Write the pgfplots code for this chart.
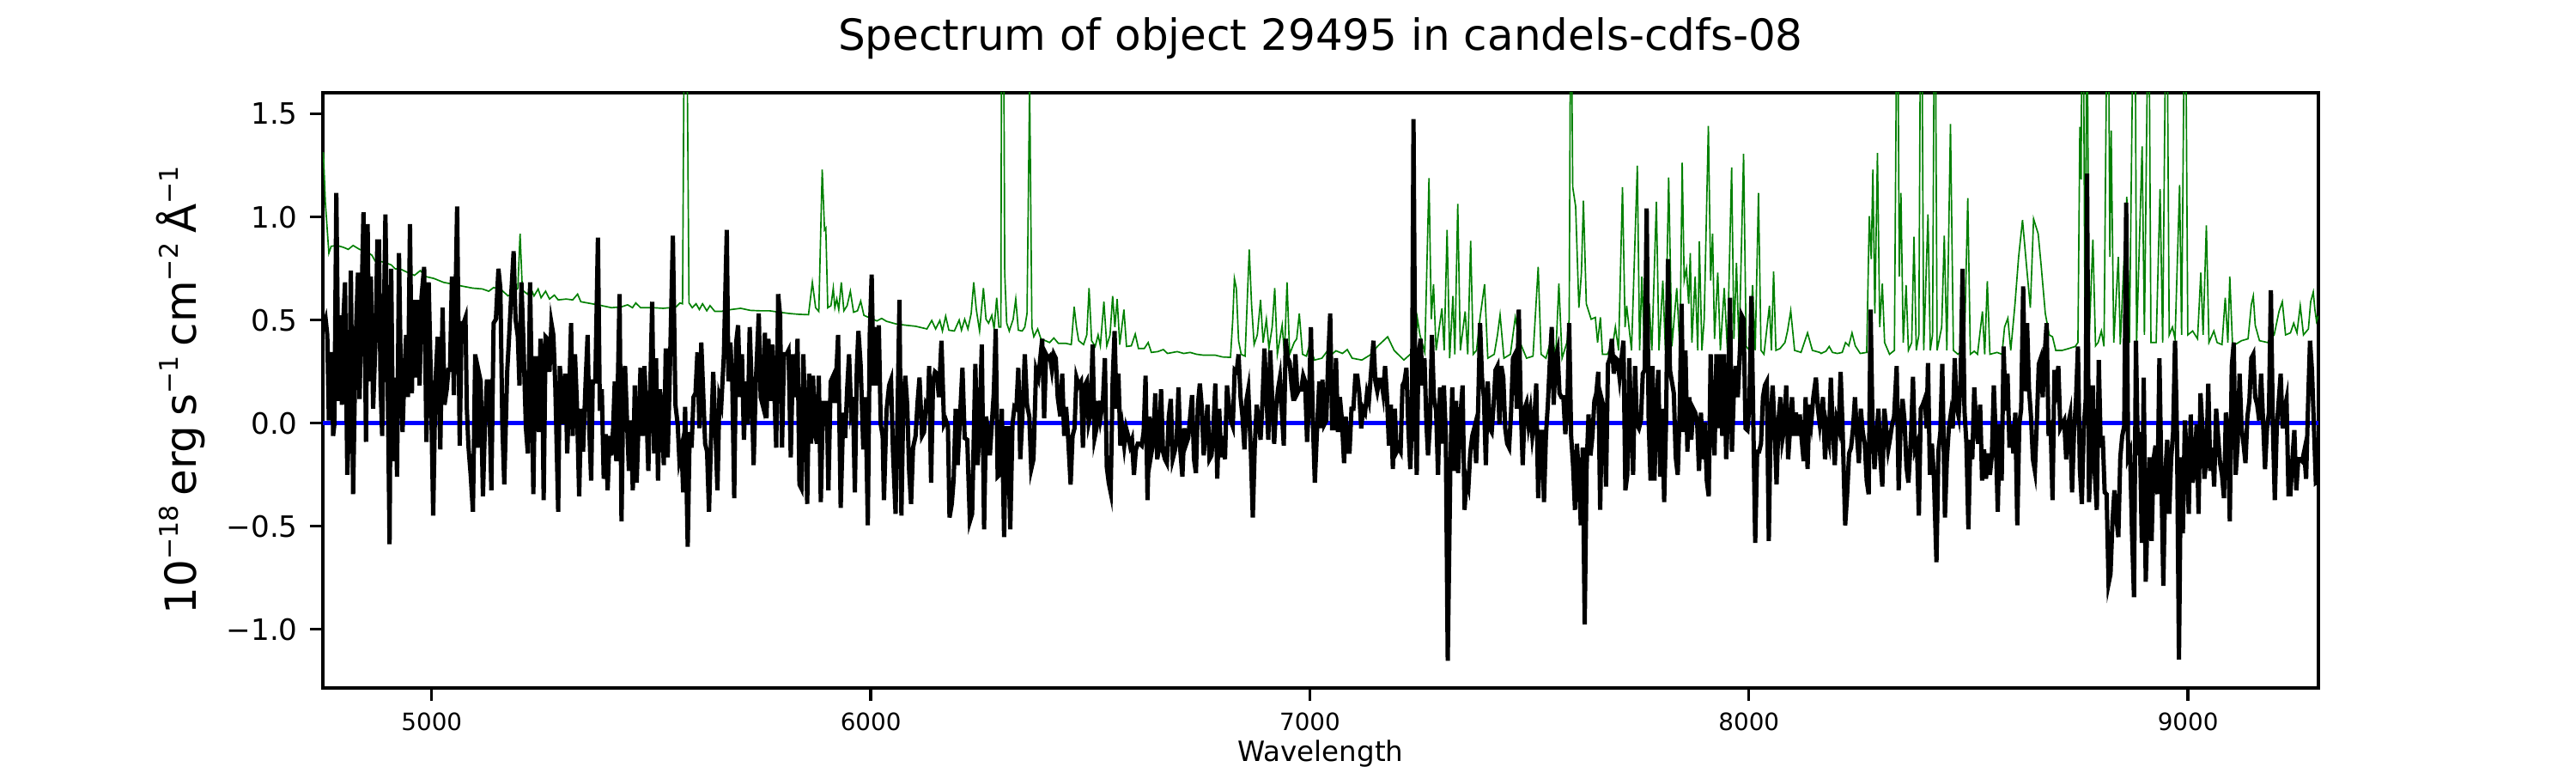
\documentclass[border=0pt]{standalone}
\usepackage{pgfplots}
\pgfplotsset{compat=1.18}
\usepackage{fontspec}
\setmainfont{DejaVu Sans}
\definecolor{mplgreen}{rgb}{0,0.5,0}
\newcommand{\sps}[1]{\raisebox{0.42em}{\fontsize{7.2}{8}\selectfont #1}}
\begin{document}
\begin{tikzpicture}
\useasboundingbox (-90.24pt,-23.76pt) rectangle (629.76pt,192.24pt);
\begin{axis}[
  at={(0pt,0pt)}, anchor=south west,
  scale only axis, width=557.76pt, height=166.32pt,
  xmin=4752, xmax=9297, ymin=-1.285, ymax=1.603,
  axis line style={line width=0.8pt},
  tick style={line width=0.8pt, black},
  tick align=outside, major tick length=3.5pt,
  xtick pos=bottom, ytick pos=left,
  xtick={5000,6000,7000,8000,9000},
  xticklabels={5000,6000,7000,8000,9000},
  ytick={-1,-0.5,0,0.5,1,1.5},
  yticklabels={−1.0,−0.5,0.0,0.5,1.0,1.5},
  xticklabel style={font=\fontsize{6.67}{8}\selectfont, anchor=north},
  yticklabel style={font=\fontsize{8.2}{10}\selectfont, anchor=east},
  title={Spectrum of object 29495 in candels-cdfs-08},
  title style={font=\fontsize{12}{14}\selectfont, at={(axis description cs:0.5,1.036)}, anchor=base},
  xlabel={Wavelength},
  xlabel style={font=\fontsize{7.8}{9}\selectfont, at={(axis description cs:0.5,-0.1239)}, anchor=base},
  ylabel={10\sps{−18}\hspace{0.22em}erg\hspace{0.22em}s\sps{−1}\hspace{0.22em}cm\sps{−2}\hspace{0.22em}Å\sps{−1}},
  ylabel style={font=\fontsize{12}{14}\selectfont, at={(axis description cs:-0.0714,0.5)}, anchor=center, rotate=0},
  clip=true,
]
% sky / noise spectrum (green)
\addplot[mplgreen, line width=0.4pt] coordinates {
(4753.2,1.315) (4757.7,1.070) (4765.7,0.825) (4770.9,0.858) (4784.1,0.862) (4798.8,0.853) (4809.9,0.843) (4820.9,0.862) (4835.6,0.843) (4850.3,0.834) (4863.6,0.815) (4870.9,0.787) (4887.1,0.783) (4907.7,0.768) (4916.5,0.749) (4931.3,0.745) (4946.0,0.730) (4960.7,0.717) (4973.9,0.740) (4986.4,0.711) (5004.8,0.702) (5026.9,0.683) (5048.9,0.674) (5071.0,0.664) (5093.1,0.655) (5115.2,0.651) (5129.9,0.640) (5140.9,0.658) (5159.3,0.645) (5174.0,0.617) (5190.2,0.640) (5196.1,0.655) (5201.2,0.919) (5206.4,0.645) (5218.1,0.626) (5225.5,0.655) (5232.9,0.617) (5242.4,0.651) (5249.0,0.608) (5259.3,0.640) (5268.2,0.602) (5279.2,0.621) (5288.0,0.598) (5306.4,0.602) (5321.1,0.598) (5332.2,0.626) (5339.5,0.589) (5365.3,0.579) (5387.3,0.570) (5409.4,0.560) (5431.5,0.564) (5446.2,0.574) (5457.2,0.560) (5464.6,0.583) (5475.6,0.560) (5505.0,0.560) (5527.1,0.557) (5541.8,0.560) (5556.5,0.564) (5565.3,0.583) (5571.2,0.579) (5577.8,2.9) (5585.9,0.583) (5593.3,0.560) (5602.1,0.579) (5609.5,0.551) (5616.8,0.579) (5626.4,0.545) (5633.8,0.570) (5644.8,0.542) (5659.5,0.542) (5681.6,0.551) (5703.6,0.557) (5725.7,0.547) (5747.8,0.545) (5769.8,0.545) (5791.9,0.538) (5814.0,0.532) (5836.0,0.528) (5858.1,0.526) (5866.9,0.683) (5874.3,0.560) (5881.6,0.542) (5889.3,1.230)
(5894.6,0.938) (5897.5,0.947) (5902.0,0.560) (5909.3,0.570) (5914.5,0.655) (5918.1,0.560) (5922.5,0.602) (5927.0,0.551) (5932.8,0.683) (5938.7,0.545) (5946.1,0.570) (5953.4,0.640) (5960.8,0.538) (5969.6,0.545) (5977.0,0.592) (5984.3,0.523) (5999.1,0.509) (6013.8,0.496) (6024.8,0.508) (6035.8,0.494) (6057.9,0.481) (6080.0,0.475) (6102.0,0.470) (6127.8,0.457) (6138.8,0.498) (6147.6,0.457) (6157.2,0.498) (6163.1,0.447) (6170.5,0.519) (6177.8,0.451) (6190.3,0.447) (6201.3,0.500) (6206.5,0.451) (6213.8,0.504) (6221.2,0.457) (6228.6,0.532) (6234.4,0.683) (6240.3,0.551) (6247.7,0.447) (6256.5,0.655) (6262.4,0.504) (6268.3,0.485) (6275.6,0.523) (6280.8,0.457) (6286.7,0.608) (6291.8,0.466) (6296.2,0.466) (6299.6,3.5) (6305.0,0.730) (6309.5,0.485) (6315.4,0.447) (6324.2,0.504) (6330.1,0.602) (6336.0,0.451) (6344.8,0.447) (6350.7,0.466) (6355.8,0.532) (6361.7,1.65) (6366.9,0.466) (6371.3,0.419) (6380.1,0.457) (6387.4,0.409) (6397.7,0.400) (6407.3,0.391) (6416.9,0.413) (6427.2,0.387) (6444.1,0.387) (6456.6,0.381) (6463.2,0.564) (6468.4,0.466) (6473.5,0.400) (6484.5,0.381) (6491.9,0.428) (6497.1,0.655) (6502.9,0.400) (6511.0,0.372) (6517.7,0.428) (6522.8,0.375) (6530.9,0.589) (6537.5,0.375) (6544.9,0.428) (6550.8,0.617) (6555.9,0.466) (6561.1,0.602) (6567.0,0.381) (6576.5,0.551) (6582.4,0.372) (6593.4,0.375) (6602.3,0.432) (6609.6,0.362) (6622.9,0.362) (6631.7,0.391) (6639.0,0.343) (6653.7,0.347) (6666.2,0.357) (6675.8,0.338) (6697.9,0.347) (6712.6,0.338) (6727.3,0.343) (6742.0,0.334) (6756.7,0.330) (6784.0,0.330) (6800.9,0.321) (6819.2,0.319) (6824.4,0.504) (6828.1,0.702) (6832.5,0.655) (6837.6,0.400) (6843.5,0.334) (6852.4,0.325) (6861.9,0.843) (6867.1,0.579) (6873.0,0.381) (6880.3,0.428) (6887.7,0.598) (6893.5,0.391) (6900.9,0.504) (6906.8,0.362) (6914.1,0.466) (6920.0,0.655) (6925.9,0.334) (6936.9,0.475) (6942.1,0.334) (6948.0,0.683) (6953.9,0.334) (6964.2,0.391) (6970.0,0.409) (6975.9,0.532) (6983.3,0.334) (6992.1,0.325) (6999.5,0.381) (7010.5,0.306) (7027.4,0.315)
(7037.4,0.343) (7044.8,0.325) (7059.5,0.351) (7074.2,0.338) (7085.2,0.357) (7096.3,0.315) (7118.3,0.306) (7136.7,0.330) (7155.1,0.375) (7177.2,0.419) (7191.9,0.353) (7214.0,0.306) (7228.7,0.334) (7239.7,0.353) (7244.9,0.508) (7250.7,0.428) (7261.8,0.343) (7271.3,1.189) (7276.5,0.504) (7281.6,0.674) (7287.5,0.353) (7300.8,0.557) (7305.9,0.353) (7312.5,0.938) (7318.4,0.315) (7325.8,0.617) (7330.2,0.334) (7336.8,1.064) (7342.7,0.353) (7353.7,0.542) (7359.6,0.334) (7366.2,0.885) (7372.1,0.334) (7379.5,0.353) (7388.3,0.523) (7397.9,0.674) (7405.2,0.315) (7419.9,0.334) (7427.3,0.428) (7433.2,0.526) (7442.0,0.315) (7456.7,0.334) (7467.8,0.513) (7478.8,0.391) (7493.5,0.315) (7508.2,0.325) (7520.0,0.758) (7526.6,0.334) (7537.6,0.315) (7552.3,0.428) (7559.7,0.315) (7567.1,0.677) (7574.4,0.315) (7585.4,0.391) (7590.6,0.504) (7594.3,2.3) (7598.7,1.145) (7605.3,1.051) (7612.7,0.560) (7618.5,0.730) (7623.0,1.079) (7629.6,0.579) (7640.6,0.504) (7650.2,0.513) (7655.3,0.391) (7661.7,0.513) (7666.4,0.334) (7677.4,0.334) (7690.6,0.391) (7695.8,0.466) (7703.1,0.353) (7712.0,1.145) (7717.9,0.466) (7721.5,0.570) (7732.6,0.353) (7745.8,1.249) (7751.0,0.353) (7756.1,0.711) (7762.0,0.353) (7773.0,0.579) (7778.9,0.353) (7789.2,1.074) (7795.1,0.353) (7803.9,0.692) (7809.8,0.353) (7817.2,1.192) (7824.5,0.372) (7835.6,0.655) (7842.9,0.353) (7848.0,1.264) (7852.5,0.692) (7857.6,0.749) (7862.8,0.579) (7866.4,0.825) (7870.1,0.391) (7877.5,0.711) (7883.4,0.353) (7887.0,0.881) (7892.9,0.353) (7898.1,0.504) (7907.6,1.442) (7912.8,0.692) (7917.2,0.919) (7921.6,0.409) (7929.0,0.730) (7934.9,0.353) (7943.7,0.655) (7951.0,0.353) (7960.6,1.240) (7965.8,0.409) (7971.6,0.777) (7977.5,0.353) (7987.8,1.306) (7993.7,0.372) (8001.1,0.353) (8008.4,0.670) (8014.3,0.353) (8021.7,1.117) (8027.5,0.353) (8034.2,0.334) (8046.7,0.570) (8051.1,0.353) (8056.2,0.736) (8061.4,0.353) (8070.9,0.362) (8082.0,0.391) (8087.9,0.447) (8095.2,0.545) (8104.0,0.353) (8118.7,0.343) (8133.5,0.438) (8144.5,0.353) (8161.4,0.343)
(8164.3,0.338) (8175.4,0.349) (8182.8,0.372) (8190.3,0.343) (8201.4,0.338) (8212.5,0.343) (8220.0,0.391) (8227.4,0.375) (8234.8,0.438) (8242.2,0.375) (8253.4,0.338) (8268.2,0.343) (8274.1,1.004) (8278.6,0.796) (8282.3,1.230) (8286.8,0.532) (8292.7,1.311) (8297.9,0.466) (8303.8,0.677) (8309.0,0.391) (8320.2,0.334) (8331.3,0.353) (8338.0,2.4) (8342.4,0.711) (8346.2,1.117) (8351.4,0.391) (8358.0,0.670) (8363.2,0.353) (8370.7,0.391) (8375.9,0.904) (8381.1,0.353) (8387.0,0.428) (8392.2,2.6) (8398.1,0.353) (8407.8,1.013) (8413.0,0.353) (8418.2,0.428) (8423.4,2.5) (8428.6,0.353) (8439.0,0.466) (8444.9,0.909) (8450.8,0.353) (8459.0,1.451) (8465.7,0.353) (8476.1,0.334) (8485.0,0.353) (8490.9,0.381) (8498.4,1.092) (8504.3,0.334) (8513.2,0.349) (8520.6,0.334) (8531.8,0.542) (8537.0,0.334) (8542.9,0.689) (8548.8,0.334) (8565.2,0.343) (8576.3,0.334) (8582.2,0.466) (8589.7,0.509) (8596.3,0.353) (8606.0,0.579) (8614.2,0.806) (8623.1,0.985) (8632.0,0.768) (8640.9,0.560) (8648.3,0.991) (8658.7,0.919) (8665.4,0.768) (8675.0,0.532) (8684.0,0.428) (8691.4,0.419) (8698.8,0.353) (8713.6,0.353) (8728.5,0.362) (8743.3,0.372) (8749.3,0.391) (8753.7,1.438) (8756.7,1.183) (8759.7,2.8) (8765.6,0.391) (8770.1,2.2) (8774.5,0.391) (8783.4,0.891) (8789.4,0.375) (8795.3,0.391) (8802.7,0.447) (8808.7,0.372) (8817.6,2.5) (8822.0,0.806) (8825.0,1.419) (8830.9,0.391) (8841.3,0.806) (8845.8,0.381) (8860.6,1.098) (8866.6,0.391) (8878.5,2.6) (8882.9,0.391) (8895.5,1.343) (8900.7,0.428) (8910.4,2.3) (8915.6,0.391) (8927.5,0.391) (8936.4,1.136) (8942.3,0.391) (8951.2,2.4) (8957.2,0.428) (8964.6,0.466) (8970.5,0.409) (8980.9,1.155) (8985.4,0.428) (8993.5,2.4) (8999.5,0.428) (9010.6,0.447) (9021.7,0.409) (9029.2,0.730) (9034.4,0.428) (9041.8,0.960) (9047.7,0.391) (9058.9,0.447) (9066.3,0.391) (9077.4,0.381) (9084.8,0.608) (9090.8,0.391) (9095.2,0.711) (9101.2,0.391) (9107.1,0.381) (9122.0,0.400) (9136.8,0.409) (9144.2,0.575) (9148.7,0.617) (9153.1,0.475) (9162.8,0.400) (9181.4,0.391) (9196.2,0.428) (9207.3,0.542) (9214.8,0.589) (9222.2,0.428) (9233.3,0.438) (9240.8,0.485) (9248.2,0.438) (9255.6,0.570) (9263.0,0.428) (9274.2,0.457) (9279.4,0.589) (9285.3,0.636) (9289.0,0.551) (9292.7,0.494) (9297.0,0.52)
};
% zero line
\addplot[blue, line width=1.2pt] coordinates {(4752,0) (9297,0)};
% object spectrum (black)
\addplot[black, line width=1.2pt] coordinates {
(4753.2,0.466) (4758.4,0.504) (4762.1,0.428) (4765.7,0.013) (4769.4,0.334) (4773.1,0.334) (4775.3,-0.062) (4778.3,-0.006) (4782.7,1.117) (4787.8,0.108) (4791.5,0.523) (4795.2,0.089) (4798.8,0.504) (4802.5,0.683) (4807.7,-0.251) (4811.4,-0.006) (4815.8,0.740) (4820.9,-0.345) (4826.8,0.409) (4832.0,0.730) (4835.6,0.117) (4839.3,0.504) (4844.5,1.023) (4850.3,-0.091) (4854.0,0.966) (4857.7,0.202) (4861.4,0.711) (4866.5,0.070) (4872.4,0.428) (4876.1,0.881) (4879.8,0.881) (4883.4,0.183) (4887.1,-0.062) (4894.5,1.013) (4898.9,0.334) (4904.0,-0.587) (4907.7,0.749) (4912.1,-0.185) (4916.5,0.221) (4921.0,-0.260) (4925.4,0.825) (4929.8,0.202) (4933.5,-0.043) (4937.1,0.202) (4941.6,0.428) (4946.0,0.126) (4950.4,0.966) (4954.8,0.145) (4958.5,0.598) (4962.9,0.221) (4966.6,0.598) (4972.4,0.183) (4976.9,0.617) (4982.7,0.758) (4987.9,-0.091) (4993.0,0.683) (4997.5,0.258) (5003.3,-0.449) (5008.5,0.202) (5013.6,0.419) (5019.5,-0.128) (5024.7,0.560) (5029.1,0.089) (5034.2,0.164) (5037.9,0.258) (5041.6,0.258) (5046.0,0.711) (5050.4,0.136) (5057.8,1.051) (5063.7,-0.109) (5068.1,0.485) (5072.5,0.485) (5076.9,0.513) (5079.8,0.079) (5083.5,-0.109) (5088.7,-0.251) (5093.8,-0.430) (5099.0,0.334) (5104.1,-0.119) (5107.8,0.240) (5111.5,0.202) (5116.6,-0.355) (5121.0,-0.025) (5125.5,0.202) (5129.9,0.202) (5135.8,-0.326) (5140.9,0.485) (5146.1,0.504) (5151.9,0.749) (5156.3,0.655) (5160.8,-0.006) (5165.2,-0.298) (5171.8,0.249) (5175.5,0.391) (5181.4,0.636) (5186.5,0.834) (5190.9,0.504) (5196.1,0.419) (5199.8,0.183) (5204.2,0.683) (5208.6,0.409) (5214.5,-0.025) (5218.9,-0.147) (5224.0,0.683) (5228.4,0.089) (5231.4,-0.345) (5235.8,0.315) (5240.2,0.315) (5243.9,-0.043) (5247.6,0.409) (5251.2,0.334) (5254.9,-0.374) (5259.3,0.419) (5263.7,0.409) (5268.2,0.249) (5272.6,0.485) (5277.0,0.428) (5281.4,0.183) (5288.0,-0.430) (5291.7,0.277) (5296.1,0.164) (5299.8,-0.006) (5304.2,0.240) (5308.6,-0.147) (5313.8,0.202) (5317.4,0.485) (5321.1,-0.062) (5326.3,0.334) (5330.7,0.089) (5335.8,-0.355) (5340.2,0.070) (5344.7,-0.138) (5350.5,0.202) (5355.0,0.428) (5359.4,-0.062) (5363.1,-0.279) (5366.7,0.202) (5372.6,0.202) (5378.5,0.900) (5382.9,0.060) (5387.3,0.164) (5391.7,-0.270) (5396.2,-0.053) (5400.6,-0.326) (5405.0,-0.062) (5409.4,-0.157) (5413.1,-0.025) (5416.8,0.202) (5420.4,-0.185) (5427.8,0.626) (5432.2,-0.477) (5436.6,0.202) (5440.3,0.277) (5444.7,0.013) (5449.1,-0.232) (5453.5,0.013) (5457.9,-0.326) (5462.4,0.183) (5466.8,-0.289) (5471.2,0.013) (5475.6,0.268) (5480.0,-0.062) (5484.4,0.277) (5488.8,0.070) (5493.3,-0.232) (5497.7,0.164) (5502.1,0.589) (5506.5,-0.147) (5510.9,0.315) (5515.3,-0.279) (5519.7,0.164) (5524.1,0.032) (5528.6,-0.204) (5533.0,0.362) (5537.4,-0.166) (5541.8,0.202) (5549.2,0.909) (5555.0,0.089) (5560.2,-0.006) (5563.9,-0.175) (5569.0,-0.119) (5572.7,-0.336) (5577.1,0.079) (5583.0,-0.600) (5587.4,-0.043) (5591.8,-0.119) (5596.2,0.126) (5600.7,0.145) (5605.1,0.343) (5609.5,-0.025) (5613.9,0.391) (5618.3,0.145) (5622.7,-0.100) (5627.1,-0.138) (5631.5,-0.430) (5636.0,-0.081) (5641.1,0.249) (5646.3,-0.043) (5650.7,-0.326) (5655.1,0.126) (5659.5,0.089) (5665.4,0.334) (5672.0,0.938) (5675.7,0.202) (5680.1,0.391) (5684.5,0.202) (5688.9,-0.364) (5693.3,0.391) (5697.8,0.475) (5702.2,0.126) (5706.6,0.334) (5711.0,-0.081) (5715.4,0.202) (5719.8,-0.006) (5724.2,0.466) (5728.6,0.183) (5733.1,-0.204) (5738.2,0.202) (5744.8,0.532) (5749.2,0.126) (5753.6,0.089) (5758.8,0.438) (5762.5,0.023) (5766.9,0.409) (5771.3,0.108) (5775.7,0.381) (5780.1,0.164) (5784.6,-0.119) (5789.0,0.626) (5793.4,0.523) (5797.8,-0.119) (5802.2,0.334) (5808.1,0.334) (5812.5,0.353) (5817.7,-0.166) (5822.8,0.334) (5828.7,0.126) (5833.1,0.409) (5837.5,-0.298) (5841.9,-0.317) (5846.3,0.334) (5850.7,0.032) (5855.2,-0.392) (5859.6,0.240) (5864.0,-0.100) (5868.4,0.230) (5872.8,-0.043) (5877.3,-0.100) (5881.6,0.230) (5886.1,-0.383) (5891.2,0.108)
(5896.1,-0.015) (5899.7,0.108) (5903.4,-0.326) (5908.6,0.202) (5914.5,0.230) (5918.1,0.098) (5921.8,0.258) (5925.5,0.428) (5931.4,-0.411) (5937.3,0.051) (5941.7,-0.072) (5946.1,0.164) (5950.5,0.334) (5954.9,0.070) (5959.3,0.126) (5963.7,-0.336) (5968.2,0.277) (5971.8,0.447) (5977.0,0.277) (5982.9,-0.128) (5988.0,0.126) (5993.2,-0.496) (5997.6,0.428) (6002.0,0.721) (6006.4,0.183) (6010.8,0.466) (6013.8,0.183) (6018.2,0.475) (6022.6,-0.006) (6027.0,-0.062) (6029.9,-0.374) (6035.8,0.060) (6041.7,0.183) (6046.1,0.211) (6050.5,-0.138) (6056.4,-0.440) (6060.8,0.042) (6065.3,0.598) (6069.7,-0.449) (6074.1,0.108) (6078.5,0.230) (6082.9,0.089) (6087.3,-0.232) (6091.7,-0.392) (6096.2,-0.119) (6102.0,-0.062) (6106.4,0.098) (6110.9,0.221) (6116.7,-0.062) (6121.2,-0.043) (6125.6,0.089) (6130.0,0.070) (6132.9,0.277) (6137.3,-0.289) (6141.8,0.202) (6146.2,0.249) (6150.6,0.240) (6155.0,0.126) (6160.9,0.400) (6166.8,-0.006) (6171.2,0.013) (6175.6,-0.015) (6179.3,-0.458) (6184.4,-0.392) (6188.8,-0.270) (6193.3,0.070) (6197.7,-0.204) (6202.8,0.013) (6208.7,0.268) (6213.8,-0.072) (6219.7,-0.081) (6225.6,-0.477) (6230.8,-0.440) (6238.1,0.287) (6243.3,-0.204) (6247.7,-0.006) (6252.8,0.381) (6258.0,-0.515) (6262.4,0.032) (6267.5,-0.043) (6271.2,-0.157) (6275.6,-0.006) (6280.1,0.145) (6284.5,0.457) (6288.9,-0.260) (6293.3,-0.251) (6298.4,0.070) (6303.6,-0.553) (6308.0,-0.025) (6312.4,-0.025) (6317.6,-0.515) (6322.7,-0.006) (6327.1,0.079) (6331.5,0.070) (6336.0,0.268) (6340.4,-0.175) (6344.8,0.013) (6350.7,0.334) (6355.8,0.089) (6361.0,0.032) (6365.4,-0.223) (6370.5,-0.175) (6376.4,0.258) (6381.6,0.221) (6386.0,0.315) (6390.4,0.409) (6394.8,0.023) (6399.2,0.334) (6403.6,0.315) (6408.0,0.325) (6412.5,0.258) (6416.9,0.334) (6421.3,0.315) (6425.7,0.126) (6431.6,0.032) (6436.0,0.240) (6440.4,-0.062) (6444.8,0.079) (6449.2,-0.062) (6455.1,-0.298) (6459.5,-0.062) (6464.0,-0.025) (6468.4,0.221) (6473.5,0.183) (6478.7,0.202) (6483.1,-0.119) (6487.5,0.183) (6491.9,0.202) (6496.3,0.004) (6500.7,0.051) (6505.2,0.381) (6509.6,-0.072) (6514.0,-0.025) (6518.4,0.108) (6522.8,0.023) (6528.7,0.108) (6533.1,0.315) (6537.5,-0.213) (6541.9,-0.289) (6546.3,-0.336) (6550.8,0.202) (6555.2,0.447) (6559.6,0.070) (6564.0,0.240) (6568.4,-0.109) (6572.8,-0.025) (6577.2,-0.109) (6581.6,-0.025) (6586.1,-0.062) (6590.5,-0.109) (6594.9,-0.081) (6599.3,-0.251) (6603.7,-0.128) (6608.1,-0.100) (6612.5,-0.100) (6617.0,-0.109) (6621.4,-0.043) (6625.8,0.230) (6630.2,-0.374) (6634.6,0.032) (6639.0,-0.147) (6643.4,-0.091) (6647.9,0.145) (6652.3,-0.175) (6656.7,-0.119) (6661.1,0.164) (6665.5,-0.138) (6669.9,-0.175) (6674.3,-0.194) (6678.7,0.032) (6683.2,0.117) (6687.6,-0.175) (6692.0,-0.138) (6696.4,-0.091) (6700.8,0.174) (6705.2,-0.138) (6709.6,-0.260) (6714.1,-0.025) (6718.5,-0.100) (6722.9,-0.072) (6727.3,0.032) (6731.7,0.136) (6736.1,-0.175) (6740.5,-0.242) (6745.0,0.089) (6749.4,0.192) (6753.8,0.079) (6758.2,-0.157) (6762.6,-0.025) (6767.0,0.089) (6771.4,-0.175) (6775.9,-0.157) (6780.3,-0.025) (6784.7,0.192) (6789.1,-0.270) (6793.5,0.070) (6797.9,-0.166) (6802.3,-0.062) (6806.7,-0.175) (6811.2,0.183) (6815.6,0.089) (6820.0,0.013) (6824.4,-0.015) (6828.8,0.258) (6833.2,0.249) (6837.6,0.334) (6842.1,0.126) (6846.5,0.032) (6850.9,-0.128) (6855.3,0.108) (6859.7,0.164) (6865.6,-0.138) (6870.0,-0.458) (6874.4,-0.119) (6878.8,0.089) (6883.2,0.023) (6887.7,-0.081) (6892.1,0.108) (6896.5,0.362) (6900.9,0.145) (6905.3,-0.081) (6909.7,0.353) (6914.1,0.126) (6918.6,-0.100) (6923.0,0.070) (6927.4,0.164) (6931.8,0.221) (6936.2,0.051) (6940.6,-0.109) (6945.0,0.409) (6949.5,0.315) (6953.9,0.296) (6958.3,0.183) (6962.7,0.108) (6967.1,0.334) (6971.5,0.145) (6975.9,0.164) (6980.3,0.164) (6984.8,0.230) (6989.2,0.202) (6993.6,-0.091) (6998.0,0.108) (7002.4,0.466) (7006.8,0.013) (7011.3,-0.289) (7015.7,-0.062) (7021.5,0.202) (7025.9,-0.025)
(7028.6,0.211) (7033.0,-0.006) (7037.4,0.013) (7041.8,0.315) (7046.3,0.532) (7050.7,-0.025) (7055.1,-0.025) (7059.5,0.315) (7063.9,-0.043) (7068.3,0.126) (7072.7,0.023) (7077.9,-0.194) (7081.6,0.032) (7086.0,-0.138) (7090.4,-0.138) (7094.8,0.070) (7099.2,0.070) (7103.6,0.230) (7108.0,0.230) (7112.5,0.145) (7116.9,-0.025) (7121.3,0.070) (7125.7,0.051) (7130.1,0.145) (7134.5,0.108) (7140.4,0.277) (7144.8,0.400) (7149.2,0.202) (7153.6,0.155) (7158.1,0.211) (7162.5,0.211) (7166.9,0.145) (7171.3,0.277) (7175.7,0.126) (7180.1,-0.109) (7184.5,0.089) (7189.0,-0.223) (7193.4,0.070) (7197.8,-0.138) (7202.2,-0.119) (7206.6,-0.138) (7211.0,0.183) (7215.4,0.202) (7219.9,0.268) (7224.3,-0.025) (7228.7,-0.223) (7232.4,0.013) (7236.0,1.475) (7240.4,0.013) (7243.4,-0.251) (7247.1,0.315) (7252.2,0.409) (7256.6,0.183) (7261.0,0.315) (7265.5,-0.006) (7269.1,-0.157) (7273.5,-0.006) (7278.0,0.428) (7282.4,0.126) (7287.5,0.060) (7291.9,-0.251) (7296.4,0.174) (7300.8,-0.100) (7305.2,0.183) (7309.6,-0.062) (7314.0,-1.153) (7319.9,-0.213) (7324.3,0.174) (7328.7,-0.232) (7333.1,0.108) (7337.5,-0.242) (7342.7,0.032) (7347.8,0.183) (7352.3,-0.421) (7356.7,-0.270) (7361.1,-0.308) (7365.5,-0.138) (7369.9,-0.062) (7374.3,-0.025) (7378.7,-0.194) (7383.2,0.070) (7387.6,0.485) (7392.0,0.221) (7396.4,0.126) (7400.8,-0.204) (7405.2,0.202) (7409.6,-0.025) (7414.1,-0.043) (7418.5,0.089) (7422.9,0.258) (7427.3,0.277) (7431.7,-0.006) (7436.1,0.277) (7440.5,0.221) (7444.9,-0.025) (7449.4,-0.100) (7453.8,-0.119) (7458.2,0.051) (7462.6,0.315) (7467.0,0.334) (7471.4,0.070) (7475.8,0.551) (7480.3,0.089) (7484.7,-0.204) (7489.1,0.070) (7493.5,0.098) (7497.9,-0.006) (7502.3,0.060) (7506.7,-0.062) (7511.2,0.013) (7515.6,0.192) (7520.0,-0.364) (7524.4,-0.043) (7528.8,-0.043) (7533.2,-0.383) (7537.6,-0.062) (7542.0,0.089) (7546.5,0.296) (7550.9,0.466) (7555.3,0.089) (7559.7,0.315) (7564.1,0.353) (7568.5,0.145) (7572.9,0.126) (7577.4,0.126) (7581.8,-0.053) (7586.2,0.070) (7590.6,0.485) (7595.0,-0.062) (7599.4,-0.204) (7603.8,-0.421) (7608.2,-0.100) (7612.7,-0.251) (7617.1,-0.496) (7621.5,-0.119) (7625.9,-0.977) (7630.3,-0.213) (7634.7,0.042) (7639.1,-0.157) (7643.6,-0.062) (7648.0,0.108) (7652.4,0.145) (7656.8,0.249) (7661.2,-0.421) (7665.6,0.108) (7670.0,0.070) (7674.5,-0.308) (7678.9,0.287) (7683.3,0.315) (7687.7,0.409) (7692.1,0.240) (7696.5,0.315) (7700.9,0.306) (7705.3,0.221) (7709.8,0.315) (7714.2,0.400) (7718.6,-0.326) (7723.0,-0.251) (7727.4,0.315) (7731.8,0.013) (7736.2,-0.251) (7740.7,0.277) (7745.1,-0.006) (7749.5,-0.025) (7753.9,0.013) (7758.3,0.240) (7762.7,0.258) (7767.1,1.042) (7771.6,0.013) (7776.0,-0.279) (7780.4,0.277) (7784.8,-0.279) (7789.2,0.070) (7793.6,0.258) (7798.0,-0.260) (7802.4,0.070) (7806.9,-0.383) (7811.3,0.013) (7815.7,0.796) (7820.1,0.258) (7824.5,0.202) (7828.9,0.145) (7833.3,-0.166) (7837.8,-0.251) (7842.2,0.051) (7846.6,0.579) (7851.0,-0.043) (7855.4,0.353) (7859.8,-0.138) (7864.2,0.126) (7868.7,-0.081) (7873.1,0.070) (7877.5,0.051) (7881.9,0.013) (7886.3,-0.232) (7890.7,0.051) (7895.1,-0.175) (7899.5,0.004) (7904.0,-0.279) (7908.4,-0.355) (7912.8,0.334) (7917.2,-0.025) (7921.6,-0.157) (7926.0,0.334) (7930.4,-0.025) (7934.9,0.334) (7939.3,-0.062) (7943.7,0.334) (7948.1,-0.175) (7952.5,0.051) (7956.9,0.608) (7961.3,-0.138) (7965.8,0.164) (7970.2,0.277) (7974.6,0.126) (7979.0,0.334) (7983.4,0.523) (7987.8,0.504) (7992.2,-0.025) (7996.6,-0.034) (8001.1,0.089) (8005.5,0.617) (8009.9,0.013) (8014.3,-0.581) (8018.7,-0.138) (8023.1,-0.138) (8027.5,-0.100) (8032.0,0.126) (8036.4,0.183) (8040.8,0.202) (8045.2,-0.572) (8049.6,0.032) (8054.0,0.183) (8058.4,-0.025) (8062.9,-0.298) (8067.3,0.013) (8071.7,0.126) (8076.1,-0.081) (8080.5,-0.025) (8084.9,0.183) (8089.3,-0.175) (8093.7,-0.025) (8098.2,0.126) (8102.6,-0.062) (8107.0,0.051) (8111.4,-0.062) (8115.8,0.042) (8120.2,-0.081) (8124.6,-0.185) (8129.1,0.126) (8133.5,-0.223) (8137.9,0.089) (8142.3,0.013) (8146.7,0.126) (8152.6,0.221) (8157.0,0.070) (8161.4,-0.006)
(8168.7,0.126) (8173.2,-0.175) (8177.6,-0.025) (8182.1,-0.081) (8186.5,0.221) (8191.0,-0.025) (8195.5,-0.204) (8199.9,0.013) (8204.4,-0.025) (8208.8,0.249) (8213.3,-0.025) (8219.2,-0.496) (8223.7,-0.345) (8228.1,-0.147) (8232.6,-0.119) (8237.0,-0.025) (8241.5,0.126) (8245.9,-0.053) (8250.4,-0.194) (8254.8,0.070) (8259.3,-0.043) (8263.8,-0.100) (8268.2,-0.279) (8272.7,-0.345) (8277.1,0.551) (8281.6,-0.025) (8286.0,-0.223) (8290.5,-0.062) (8294.9,0.070) (8299.4,-0.175) (8303.8,-0.308) (8308.3,0.070) (8312.8,-0.025) (8317.2,-0.128) (8321.7,-0.072) (8326.1,-0.006) (8330.6,0.032) (8336.5,0.277) (8341.0,-0.326) (8345.4,-0.025) (8349.9,0.117) (8354.3,0.013) (8358.8,-0.213) (8363.2,-0.289) (8369.2,-0.062) (8373.6,0.225) (8378.1,-0.128) (8382.5,-0.100) (8387.0,-0.449) (8391.4,0.070) (8395.9,0.089) (8400.4,0.117) (8404.8,-0.025) (8407.8,0.292) (8412.2,-0.251) (8416.7,-0.100) (8421.1,-0.251) (8427.1,-0.675) (8431.5,-0.138) (8436.0,-0.043) (8440.4,0.287) (8446.4,-0.458) (8450.8,-0.175) (8455.3,-0.025) (8459.7,0.042) (8464.2,-0.025) (8468.7,0.315) (8473.1,0.079) (8477.6,0.032) (8482.0,0.202) (8486.5,0.749) (8490.9,0.060) (8495.4,-0.100) (8499.8,-0.515) (8504.3,-0.081) (8508.7,-0.175) (8513.2,0.174) (8517.7,-0.025) (8522.1,-0.100) (8526.6,0.089) (8531.0,-0.279) (8535.5,-0.128) (8539.9,-0.270) (8544.4,-0.147) (8548.8,-0.251) (8553.3,-0.157) (8557.7,0.183) (8562.2,-0.072) (8566.7,-0.430) (8571.1,-0.006) (8575.6,-0.279) (8580.0,0.372) (8584.5,0.060) (8588.9,0.240) (8593.4,-0.119) (8597.8,-0.006) (8602.3,-0.147) (8606.7,0.051) (8611.2,-0.496) (8615.7,-0.006) (8620.1,0.070) (8624.6,0.664) (8629.0,0.155) (8633.5,0.485) (8637.9,0.164) (8642.4,0.032) (8646.8,-0.175) (8651.3,-0.232) (8655.7,0.004) (8660.2,0.287) (8664.6,0.315) (8669.1,0.126) (8673.6,0.334) (8678.0,0.485) (8682.5,-0.062) (8686.9,0.013) (8691.4,-0.374) (8695.8,0.258) (8700.3,0.183) (8704.7,0.277) (8709.2,-0.025) (8713.6,-0.006) (8718.1,0.013) (8722.6,-0.175) (8727.0,-0.006) (8731.5,0.042) (8735.9,-0.336) (8740.4,-0.043) (8744.8,0.108) (8749.3,0.372) (8753.7,-0.223) (8758.2,-0.392) (8762.6,-0.025) (8767.1,0.117) (8770.1,1.211) (8774.5,-0.383) (8779.0,-0.157) (8783.4,0.183) (8787.9,-0.251) (8792.3,-0.421) (8796.8,0.306) (8801.3,-0.119) (8805.7,-0.062) (8810.2,-0.336) (8814.6,-0.345) (8819.1,-0.779) (8823.5,-0.732) (8828.0,-0.477) (8832.4,-0.326) (8836.9,-0.458) (8841.3,-0.553) (8845.8,-0.166) (8850.2,-0.062) (8854.7,-0.015) (8859.2,1.070) (8863.6,-0.166) (8868.1,-0.138) (8872.5,-0.534) (8877.0,-0.845) (8881.4,0.400) (8885.9,-0.157) (8890.3,-0.043) (8894.8,-0.581) (8899.2,0.221) (8903.7,-0.770) (8908.2,-0.421) (8912.6,-0.166) (8917.1,-0.572) (8921.5,-0.175) (8926.0,-0.109) (8930.4,-0.345) (8934.9,0.315) (8939.3,-0.251) (8943.8,-0.789) (8948.2,-0.251) (8952.7,-0.081) (8957.2,-0.440) (8961.6,-0.175) (8966.1,-0.043) (8970.5,0.400) (8975.0,-0.062) (8979.4,-1.147) (8983.9,-0.166) (8988.3,-0.534) (8992.8,0.013) (8997.2,-0.157) (9001.7,-0.440) (9006.2,0.042) (9010.6,-0.289) (9015.1,-0.232) (9019.5,-0.006) (9024.0,-0.440) (9028.4,0.145) (9032.9,-0.025) (9037.3,-0.270) (9041.8,-0.175) (9046.2,0.192) (9050.7,-0.232) (9055.2,-0.119) (9059.6,-0.308) (9064.1,0.070) (9068.5,-0.062) (9073.0,-0.194) (9077.4,-0.251) (9081.9,-0.364) (9086.3,0.051) (9090.8,-0.043) (9095.2,-0.477) (9099.7,0.277) (9104.2,0.391) (9108.6,-0.251) (9113.1,-0.100) (9117.5,0.240) (9122.0,-0.025) (9126.4,-0.100) (9130.9,-0.194) (9135.3,0.032) (9139.8,0.108) (9144.2,0.315) (9148.7,0.334) (9153.1,0.126) (9157.6,0.089) (9162.1,0.013) (9166.5,0.240) (9171.0,0.013) (9175.4,-0.223) (9179.9,-0.025) (9184.3,0.051) (9188.8,0.645) (9193.2,-0.006) (9197.7,-0.374) (9202.1,-0.025) (9206.6,0.108) (9211.1,0.240) (9215.5,-0.025) (9220.0,0.070) (9224.4,0.117) (9228.9,-0.345) (9233.3,-0.345) (9237.8,-0.175) (9242.2,-0.034) (9246.7,-0.326) (9251.1,-0.175) (9255.6,-0.175) (9260.0,-0.185) (9264.5,-0.138) (9269.0,-0.270) (9273.4,0.089) (9277.9,0.400) (9282.3,0.258) (9286.8,-0.015) (9291.2,-0.289) (9297.0,-0.280)
};
\end{axis}
\end{tikzpicture}
\end{document}
